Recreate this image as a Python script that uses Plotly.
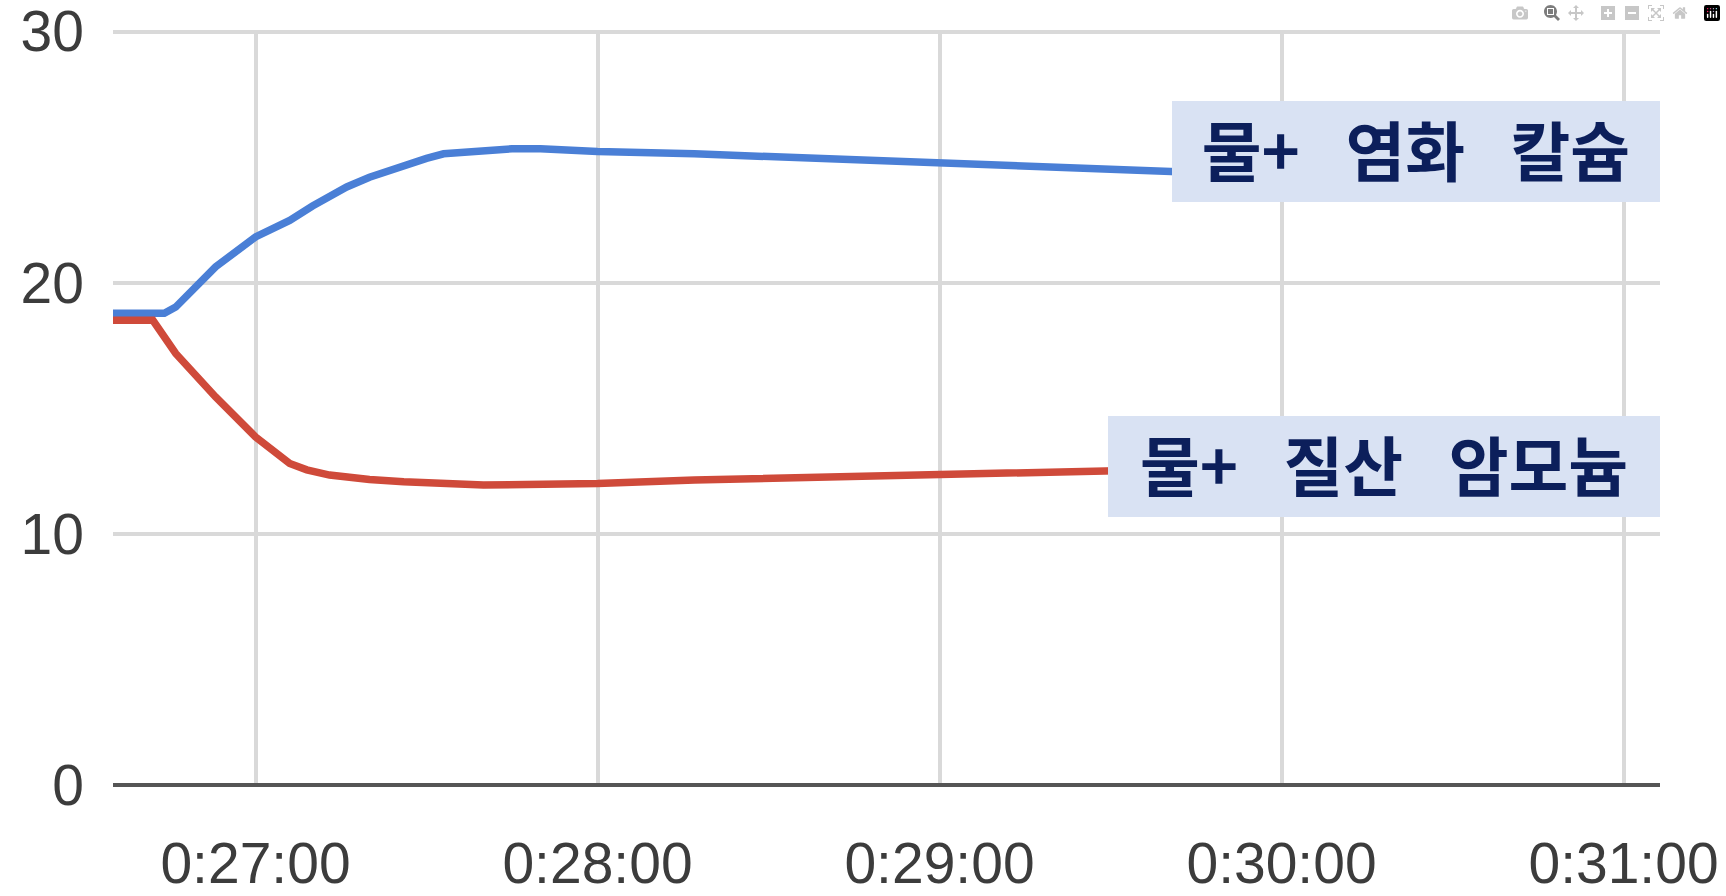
# -*- coding: utf-8 -*-
"""
물 + 염화 칼슘 / 물 + 질산 암모늄 온도 변화 그래프
"""

import plotly.graph_objects as go

# 측정 시각 (h:mm:ss)
blue_time = [
    "0:26:35", "0:26:44", "0:26:46", "0:26:53", "0:27:00", "0:27:06",
    "0:27:10", "0:27:16", "0:27:20", "0:27:25", "0:27:30", "0:27:33",
    "0:27:40", "0:27:45", "0:27:50", "0:28:00", "0:28:17", "0:28:30",
    "0:29:00", "0:29:20", "0:29:40", "0:30:20", "0:31:06",
]
blue_temp = [
    18.78, 18.78, 19.03, 20.63, 21.82, 22.48,
    23.05, 23.81, 24.2, 24.6, 24.95, 25.13,
    25.28, 25.33, 25.33, 25.22, 25.13, 25.02,
    24.73, 24.58, 24.41, 24.1, 23.76,
]

red_time = [
    "0:26:35", "0:26:42", "0:26:46", "0:26:53", "0:27:00", "0:27:03",
    "0:27:06", "0:27:09", "0:27:13", "0:27:20", "0:27:26", "0:27:40",
    "0:28:00", "0:28:17", "0:28:40", "0:29:00", "0:29:30", "0:30:20",
    "0:31:06",
]
red_temp = [
    18.5, 18.5, 17.18, 15.45, 13.86, 13.3,
    12.8, 12.55, 12.34, 12.16, 12.07, 11.94,
    12.0, 12.14, 12.25, 12.34, 12.47, 12.75,
    13.0,
]

# 라벨 (넓은 띄어쓰기)
SP = "\u2002\u2009"
labels = [f"물+{SP}염화{SP}칼슘", f"물+{SP}질산{SP}암모늄"]
label_y = [25.21, 12.67]

y_ticks = [0, 10, 20, 30]

BASE_DAY = "2000-01-01 "


def to_ts(times):
    # "0:26:35" -> "2000-01-01 00:26:35"
    out = []
    for t in times:
        h, m, s = t.split(":")
        out.append(f"{BASE_DAY}{int(h):02d}:{m}:{s}")
    return out


def main():
    fig = go.Figure()

    # 두 용액의 온도 곡선
    fig.add_trace(go.Scatter(
        x=to_ts(blue_time), y=blue_temp, mode="lines",
        line=dict(color="#4a7fd6", width=7.5), name=labels[0],
    ))
    fig.add_trace(go.Scatter(
        x=to_ts(red_time), y=red_temp, mode="lines",
        line=dict(color="#cf4a3a", width=7.5), name=labels[1],
    ))

    # 오른쪽 라벨 박스
    for text, y, w in zip(labels, label_y, [488, 552]):
        fig.add_annotation(
            x=1, xref="paper", xanchor="right",
            y=y, yref="y", yanchor="middle",
            text=f"<b>{text}</b>", showarrow=False,
            font=dict(family="Noto Sans CJK KR", size=65, color="#0c1f5b"),
            bgcolor="#d9e2f3", borderwidth=0, borderpad=0,
            width=w, height=101, align="center", valign="top",
        )

    tick_font = dict(family="Arial, Liberation Sans", size=57, color="#3c3c3c")

    fig.update_xaxes(
        type="date",
        range=[BASE_DAY + "00:26:35", BASE_DAY + "00:31:06.4"],
        tick0=BASE_DAY + "00:27:00", dtick=60000,
        tickformat="%-H:%M:%S",
        showgrid=True, gridcolor="#d9d9d9", gridwidth=3.5,
        showline=False, zeroline=False, automargin=False,
        tickfont=tick_font, ticklabelstandoff=40, ticklabeloverflow="allow",
    )
    fig.update_yaxes(
        range=[0, 30.06], tickvals=y_ticks,
        showgrid=True, gridcolor="#d9d9d9", gridwidth=3.5,
        zeroline=True, zerolinecolor="#555555", zerolinewidth=4,
        showline=False, automargin=False,
        tickfont=tick_font, ticklabelstandoff=28, ticklabeloverflow="allow",
    )

    fig.update_layout(
        width=1726, height=896,
        margin=dict(l=113, r=66, t=30, b=111),
        paper_bgcolor="white", plot_bgcolor="white",
        showlegend=False,
    )

    fig.write_html("out.html", post_script="document.body.style.margin='0';")


if __name__ == "__main__":
    main()
